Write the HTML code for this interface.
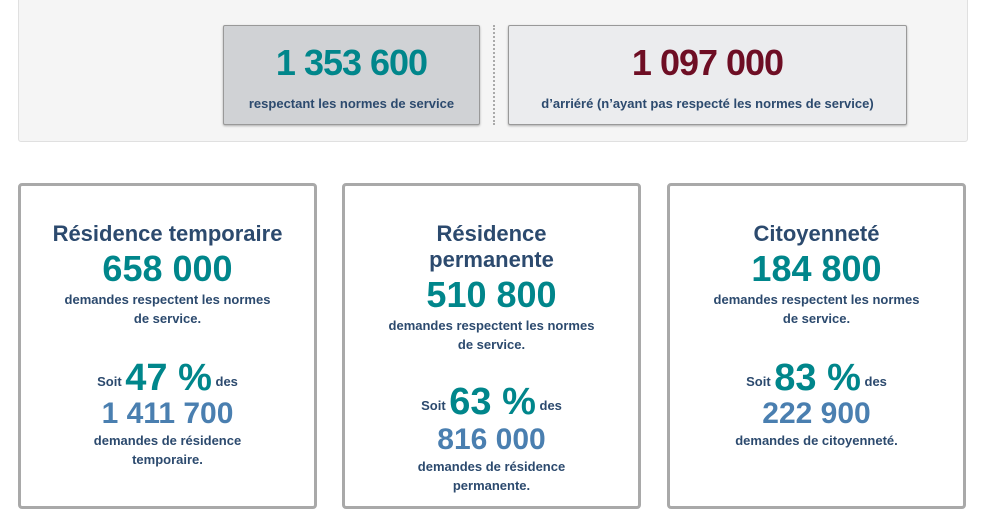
<!DOCTYPE html>
<html><head><meta charset="utf-8"><style>
body{margin:0;width:981px;height:484px;overflow:hidden;background:#fff;font-family:"Liberation Sans",sans-serif;position:relative}
.a{position:absolute;left:0;right:0;text-align:center;white-space:nowrap;font-weight:bold}
#top{position:absolute;left:18px;top:-20px;width:948px;height:160px;background:#f5f5f5;border:1px solid #e0e0e0;border-radius:3px}
.box{position:absolute;top:25px;height:98px;border:1px solid #999;border-radius:2px;box-shadow:0 1px 2px rgba(0,0,0,.3)}
.card{position:absolute;top:183px;width:293px;height:320px;border:3px solid #a9a9a9;border-radius:4px;background:#fff}
.t{color:#2c4a6e;font-size:22px;line-height:26px}
.n{color:#00868b;font-size:36px;line-height:40px}
.s{color:#2c4a6e;font-size:13px;line-height:19px}
.p{color:#4a7fb0;font-size:30px;line-height:34px}
.soit{color:#2c4a6e;font-size:13px;line-height:44px}
.soit b{color:#00868b;font-size:38px;vertical-align:-4px}
</style></head><body>
<div id="top">
<div class="a" style="top:-14px;font-size:30px;color:#333;font-weight:normal">d’IRCC</div>
</div>
<div class="box" style="left:223px;width:255px;background:#d0d2d5">
<div class="a" style="top:16px;font-size:36px;color:#00868b;letter-spacing:-1px">1 353 600</div>
<div class="a" style="top:70px;font-size:13px;color:#2c4a6e">respectant les normes de service</div>
</div>
<div style="position:absolute;left:493px;top:25px;height:100px;border-left:2px dotted #aaa"></div>
<div class="box" style="left:508px;width:397px;background:#ebecee">
<div class="a" style="top:16px;font-size:36px;color:#6e0e24;letter-spacing:-1px">1 097 000</div>
<div class="a" style="top:70px;font-size:13px;color:#2c4a6e">d’arriéré (n’ayant pas respecté les normes de service)</div>
</div>

<div class="card" style="left:18px">
<div class="a t" style="top:35px">Résidence temporaire</div>
<div class="a n" style="top:63px">658 000</div>
<div class="a s" style="top:104px">demandes respectent les normes<br>de service.</div>
<div class="a soit" style="top:170px">Soit <b>47 %</b> des</div>
<div class="a p" style="top:211px">1 411 700</div>
<div class="a s" style="top:245px">demandes de résidence<br>temporaire.</div>
</div>

<div class="card" style="left:342px">
<div class="a t" style="top:35px">Résidence<br>permanente</div>
<div class="a n" style="top:89px">510 800</div>
<div class="a s" style="top:130px">demandes respectent les normes<br>de service.</div>
<div class="a soit" style="top:194px">Soit <b>63 %</b> des</div>
<div class="a p" style="top:237px">816 000</div>
<div class="a s" style="top:271px">demandes de résidence<br>permanente.</div>
</div>

<div class="card" style="left:667px">
<div class="a t" style="top:35px">Citoyenneté</div>
<div class="a n" style="top:63px">184 800</div>
<div class="a s" style="top:104px">demandes respectent les normes<br>de service.</div>
<div class="a soit" style="top:170px">Soit <b>83 %</b> des</div>
<div class="a p" style="top:211px">222 900</div>
<div class="a s" style="top:245px">demandes de citoyenneté.</div>
</div>
</body></html>
